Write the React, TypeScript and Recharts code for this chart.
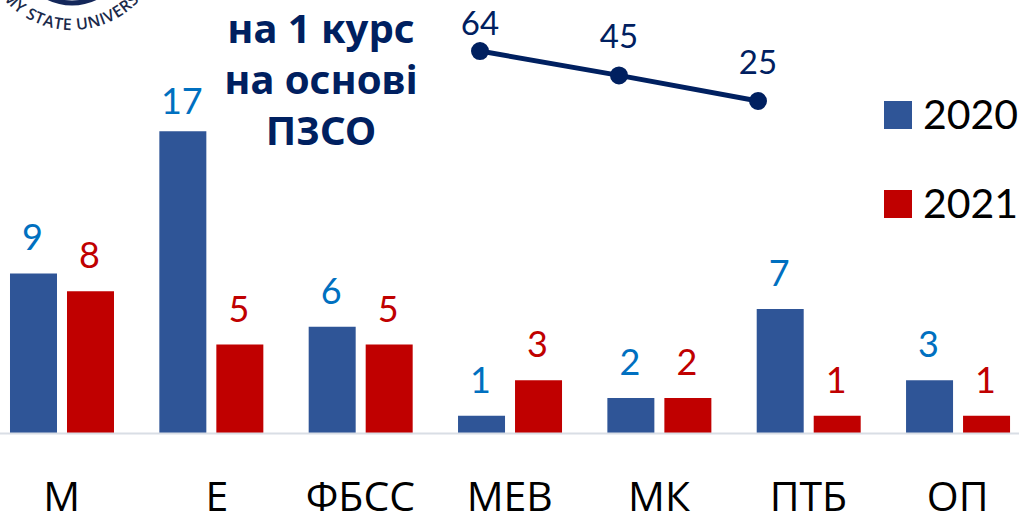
import { BarChart, Bar, LineChart, Line, XAxis, YAxis, LabelList } from "recharts";

const categories = ["М", "Е", "ФБСС", "МЕВ", "МК", "ПТБ", "ОП"];
const values2020 = [9, 17, 6, 1, 2, 7, 3];
const values2021 = [8, 5, 5, 3, 2, 1, 1];
const trendSteps = ["a", "b", "c"];
const trendValues = [64, 45, 25];
const titleLines = ["на 1 курс", "на основі", "ПЗСО"];

const barData = categories.map((name, i) => ({ name, y2020: values2020[i], y2021: values2021[i] }));
const trendData = trendSteps.map((step, i) => ({ step, value: trendValues[i] }));

const BLUE = "#2F5597";
const RED = "#C00000";
const NAVY = "#002060";
const font = "Lato, 'Open Sans', sans-serif";
const tickFont = "'Open Sans', sans-serif";

function CategoryTick({ x, y, payload }: any) {
  // the Е label sits a little right of its bars in the original
  const nudge = payload.value === "Е" ? 6 : 0;
  return (
    <text x={x + nudge} y={y + 70} textAnchor="middle" fontFamily={tickFont} fontSize={41} fill="#000">
      {payload.value}
    </text>
  );
}

function barLabel(color: string) {
  return ({ x, y, width, value }: any) => (
    <text x={x + width / 2 - 1} y={y - (value === 17 ? 17 : 23)} textAnchor="middle" fontFamily={font} fontSize={36} fill={color}>
      {value}
    </text>
  );
}

function trendLabel({ x, y, value }: any) {
  return (
    <text x={x} y={y - (value === 64 ? 16 : 27)} textAnchor="middle" fontFamily={font} fontSize={33} fill={NAVY}>
      {value}
    </text>
  );
}

function Logo() {
  return (
    <svg width={170} height={40} style={{ position: "absolute", left: 0, top: 0 }}>
      <circle cx={72} cy={-50} r={53} fill="none" stroke="#14275a" strokeWidth={5} />
      <defs>
        <path id="logoArc" d="M -20 -62 A 92 92 0 0 0 164 -62" />
      </defs>
      <text fontFamily="'Open Sans', sans-serif" fontSize={16} fontWeight={600} fill="#1b2a4a" letterSpacing={0.6}>
        <textPath href="#logoArc" startOffset="50%" textAnchor="middle">SUMY STATE UNIVERSITY</textPath>
      </text>
    </svg>
  );
}

export default function App() {
  return (
    <div style={{ position: "absolute", left: 0, top: 0, width: 1019, height: 516, overflow: "hidden", background: "#fff" }}>
      <div style={{ position: "absolute", left: -12.7, top: 0 }}>
        <BarChart width={1045.4} height={516} data={barData} barSize={47} barGap={10} margin={{ top: 6.8, right: 0, left: 0, bottom: 0 }}>
          <XAxis dataKey="name" height={82.5} tickLine={false} axisLine={{ stroke: "#D9DEE5", strokeWidth: 2 }} tick={<CategoryTick />} interval={0} />
          <YAxis hide domain={[0, 24]} />
          <Bar dataKey="y2020" fill={BLUE} isAnimationActive={false}>
            <LabelList dataKey="y2020" content={barLabel("#0070C0")} />
          </Bar>
          <Bar dataKey="y2021" fill={RED} isAnimationActive={false}>
            <LabelList dataKey="y2021" content={barLabel(RED)} />
          </Bar>
        </BarChart>
      </div>

      <div style={{ position: "absolute", left: 450, top: 0 }}>
        <LineChart width={338} height={150} data={trendData} margin={{ top: 5, right: 30, left: 30, bottom: 17 }}>
          <XAxis dataKey="step" hide scale="point" />
          <YAxis hide domain={[0, 100]} />
          <Line dataKey="value" stroke={NAVY} strokeWidth={5} dot={{ r: 6.5, fill: NAVY, stroke: NAVY }} isAnimationActive={false}>
            <LabelList dataKey="value" content={trendLabel} />
          </Line>
        </LineChart>
      </div>

      <div style={{ position: "absolute", left: 171, top: 2, width: 300, textAlign: "center", fontFamily: "'Noto Sans', sans-serif", fontWeight: 700, fontSize: 40, lineHeight: "51px", color: NAVY }}>
        {titleLines.map((line) => (
          <div key={line}>{line}</div>
        ))}
      </div>

      {[
        { label: "2020", color: BLUE, top: 91 },
        { label: "2021", color: RED, top: 180 },
      ].map((item) => (
        <div key={item.label} style={{ position: "absolute", left: 884, top: item.top, height: 48, display: "flex", alignItems: "center", fontFamily: font, fontSize: 41, color: "#000" }}>
          <span style={{ width: 28, height: 28, background: item.color, marginRight: 11 }} />
          <span style={{ position: "relative", top: -2 }}>{item.label}</span>
        </div>
      ))}

      <Logo />
    </div>
  );
}
